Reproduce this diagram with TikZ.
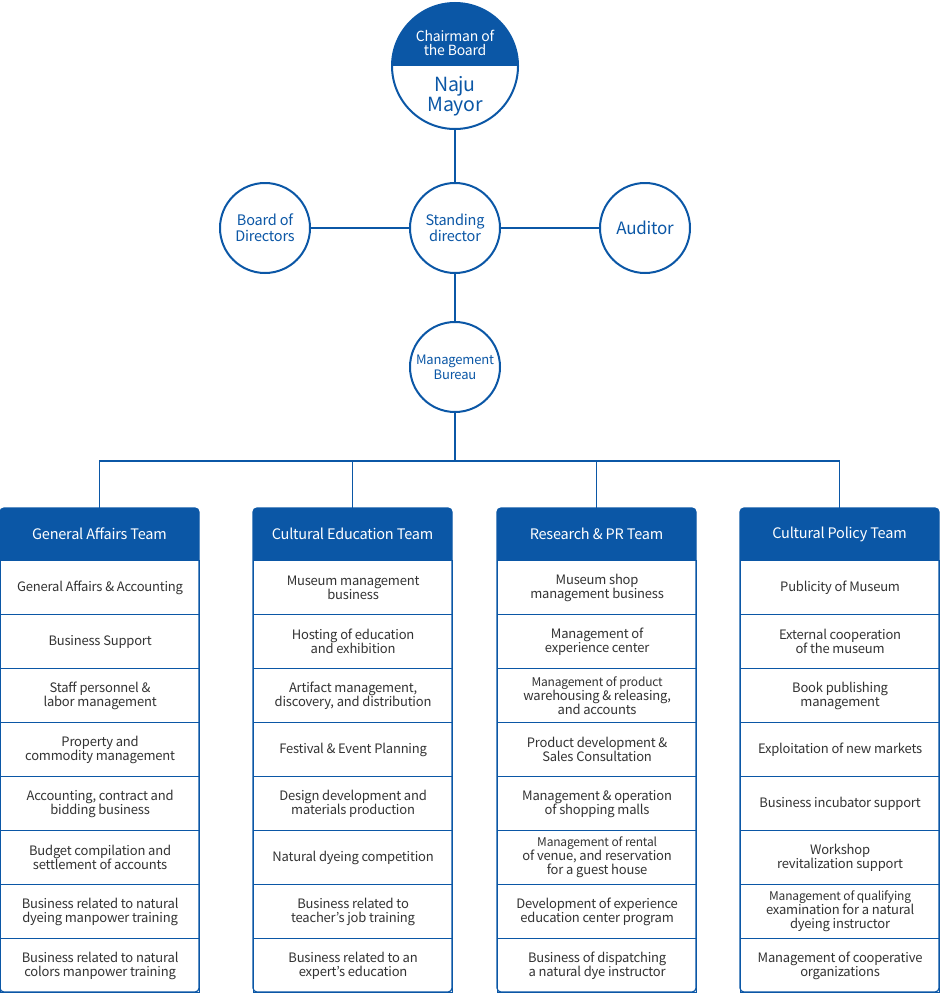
\documentclass[tikz,border=0pt]{standalone}
\usepackage{fontspec}
\setmainfont[LetterSpace=-1.5]{Noto Sans CJK KR}
\definecolor{nb}{HTML}{0B57A6}
\definecolor{tx}{HTML}{333333}
\newcommand\smallrow{\fontsize{12}{13}\selectfont}
\begin{document}
\begin{tikzpicture}[x=1pt,y=-1pt,
 circ/.style={circle,draw=nb,line width=2pt,fill=white,text=nb,align=center,inner sep=0pt,minimum size=90pt,font=\fontsize{14.5}{16}\selectfont},
 link/.style={draw=nb,line width=1.2pt},
 hdrtext/.style={text=white,font=\fontsize{14.5}{16}\selectfont,minimum width=199pt,minimum height=52pt,inner sep=0pt},
 cell/.style={draw=nb,fill=white,line width=1.2pt,minimum width=199pt,minimum height=54pt,inner sep=0pt,align=center,text=tx,font=\fontsize{13}{14}\selectfont,anchor=north west},
]
\useasboundingbox (0,0) rectangle (940,993);

% Chairman circle
\begin{scope}
 \clip (455,66) circle[radius=63];
 \fill[white] (380,0) rectangle (530,140);
 \fill[nb] (380,0) rectangle (530,66);
\end{scope}
\node[circ,fill=none,minimum size=126pt] (chair) at (455,66) {};
\node[text=white,align=center,font=\fontsize{14}{14}\selectfont] (chairt) at (455,43) {Chairman of\\the Board};
\node[text=nb,align=center,font=\fontsize{19.5}{19.5}\selectfont] (mayor) at (455,96) {Naju\\Mayor};

\node[circ] (std) at (455,228) {Standing\\director};
\node[circ] (brd) at (265,228) {Board of\\Directors};
\node[circ,font=\fontsize{17}{18}\selectfont] (aud) at (645,228) {Auditor};
\node[circ,font=\fontsize{13}{15}\selectfont] (bur) at (455,367) {Management\\Bureau};

\draw[link] (chair) -- (std);
\draw[link] (brd) -- (std);
\draw[link] (std) -- (aud);
\draw[link] (std) -- (bur);

\newcommand\teamcol[4]{%
 \fill[nb,rounded corners=4pt] (#2,568) -- (#2,508) -- (#2+199,508) -- (#2+199,568) -- cycle;
 \node[hdrtext] (h#1) at (#2+99.5,534) {#3};
 \foreach \t [count=\i] in {#4} {
  \node[cell] (c#1r\i) at ({#2},{560+(\i-1)*54}) {\t};
 }
 \draw[nb,line width=1.2pt,rounded corners=4pt] (#2,508) rectangle (#2+199,992);
}

\teamcol{1}{0}{General Affairs Team}{
 {General Affairs \& Accounting},
 {Business Support},
 {Staff personnel \&\\labor management},
 {Property and\\commodity management},
 {Accounting, contract and\\bidding business},
 {Budget compilation and\\settlement of accounts},
 {Business related to natural\\dyeing manpower training},
 {Business related to natural\\colors manpower training}}
\teamcol{2}{253}{Cultural Education Team}{
 {Museum management\\business},
 {Hosting of education\\and exhibition},
 {Artifact management,\\discovery, and distribution},
 {Festival \& Event Planning},
 {Design development and\\materials production},
 {Natural dyeing competition},
 {Business related to\\teacher’s job training},
 {Business related to an\\expert’s education}}
\teamcol{3}{497}{Research \& PR Team}{
 {Museum shop\\management business},
 {Management of\\experience center},
 {\smallrow Management of product\\warehousing \& releasing,\\and accounts},
 {Product development \&\\Sales Consultation},
 {Management \& operation\\of shopping malls},
 {\smallrow Management of rental\\of venue, and reservation\\for a guest house},
 {Development of experience\\education center program},
 {Business of dispatching\\a natural dye instructor}}
\teamcol{4}{740}{Cultural Policy Team}{
 {Publicity of Museum},
 {External cooperation\\of the museum},
 {Book publishing\\management},
 {Exploitation of new markets},
 {Business incubator support},
 {Workshop\\revitalization support},
 {\smallrow Management of qualifying\\examination for a natural\\dyeing instructor},
 {Management of cooperative\\organizations}}

\coordinate (bus) at (455,461);
\draw[link] (bur) -- (bus);
\foreach \h in {h1,h2,h3,h4} \draw[link] (bus) -| (\h.north);
\end{tikzpicture}
\end{document}
